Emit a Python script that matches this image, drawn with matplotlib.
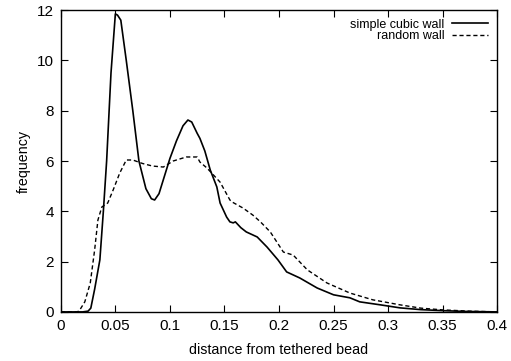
import matplotlib
matplotlib.use("Agg")
import matplotlib.pyplot as plt

plt.rcParams['font.family'] = ['Liberation Sans', 'DejaVu Sans']

# simple cubic wall (solid)
cubic_x = [0.0, 0.02, 0.025, 0.0275, 0.031, 0.0358, 0.039, 0.042, 0.046, 0.05, 0.052, 0.055,
           0.06, 0.066, 0.0716, 0.078, 0.083, 0.086, 0.09, 0.095, 0.1, 0.106, 0.112, 0.1165,
           0.12, 0.125, 0.1275, 0.132, 0.137, 0.143, 0.146, 0.152, 0.155, 0.158, 0.16, 0.165,
           0.17, 0.18, 0.189, 0.199, 0.207, 0.219, 0.235, 0.25, 0.265, 0.274, 0.293, 0.311,
           0.33, 0.35, 0.37, 0.4]
cubic_y = [0.0, 0.0, 0.03, 0.15, 0.9, 2.07, 4.0, 6.0, 9.5, 11.85, 11.8, 11.6,
           10.0, 8.0, 6.0, 4.9, 4.5, 4.45, 4.7, 5.4, 6.1, 6.8, 7.4, 7.63,
           7.55, 7.1, 6.9, 6.4, 5.64, 4.97, 4.33, 3.77, 3.58, 3.54, 3.58, 3.35,
           3.18, 2.98, 2.58, 2.07, 1.59, 1.35, 0.95, 0.68, 0.56, 0.4, 0.28, 0.16,
           0.09, 0.05, 0.02, 0.0]

# random wall (dashed)
random_x = [0.0, 0.015, 0.017, 0.022, 0.027, 0.031, 0.034, 0.0376, 0.043, 0.048, 0.054, 0.06,
            0.066, 0.075, 0.084, 0.094, 0.103, 0.115, 0.125, 0.1275, 0.134, 0.146, 0.155, 0.157,
            0.167, 0.176, 0.183, 0.192, 0.204, 0.213, 0.226, 0.244, 0.265, 0.286, 0.311,
            0.33, 0.35, 0.375, 0.4]
random_y = [0.0, 0.0, 0.05, 0.4, 1.15, 2.46, 3.65, 4.17, 4.33, 4.85, 5.52, 6.04,
            6.04, 5.9, 5.8, 5.76, 6.0, 6.16, 6.16, 5.96, 5.72, 5.16, 4.45, 4.37,
            4.13, 3.85, 3.58, 3.18, 2.38, 2.26, 1.67, 1.15, 0.75, 0.48, 0.28,
            0.15, 0.08, 0.03, 0.0]

fig = plt.figure(figsize=(5.11, 3.61), dpi=100)
ax = fig.add_axes([0.119, 0.136, 0.854, 0.836])

ax.plot(cubic_x, cubic_y, color='black', lw=1.2, label='simple cubic wall')
ax.plot(random_x, random_y, color='black', lw=1.0, ls=(0, (3, 2)), label='random wall')

ax.set_xlim(0, 0.4)
ax.set_ylim(0, 12)
ax.set_xticks([0, 0.05, 0.1, 0.15, 0.2, 0.25, 0.3, 0.35, 0.4])
ax.set_xticklabels(['0', '0.05', '0.1', '0.15', '0.2', '0.25', '0.3', '0.35', '0.4'])
ax.set_yticks([0, 2, 4, 6, 8, 10, 12])
ax.tick_params(direction='in', top=True, right=True, length=5, labelsize=11, pad=5)
for s in ax.spines.values():
    s.set_linewidth(1.0)

ax.set_xlabel('distance from tethered bead', fontsize=10.3, labelpad=7)
ax.set_ylabel('frequency', fontsize=10.3, labelpad=4)

ax.legend(loc='upper right', frameon=False, markerfirst=False, fontsize=9,
          handlelength=2.9, labelspacing=-0.05, borderaxespad=0.3, handletextpad=0.6)

fig.savefig('out.png', dpi=100)
